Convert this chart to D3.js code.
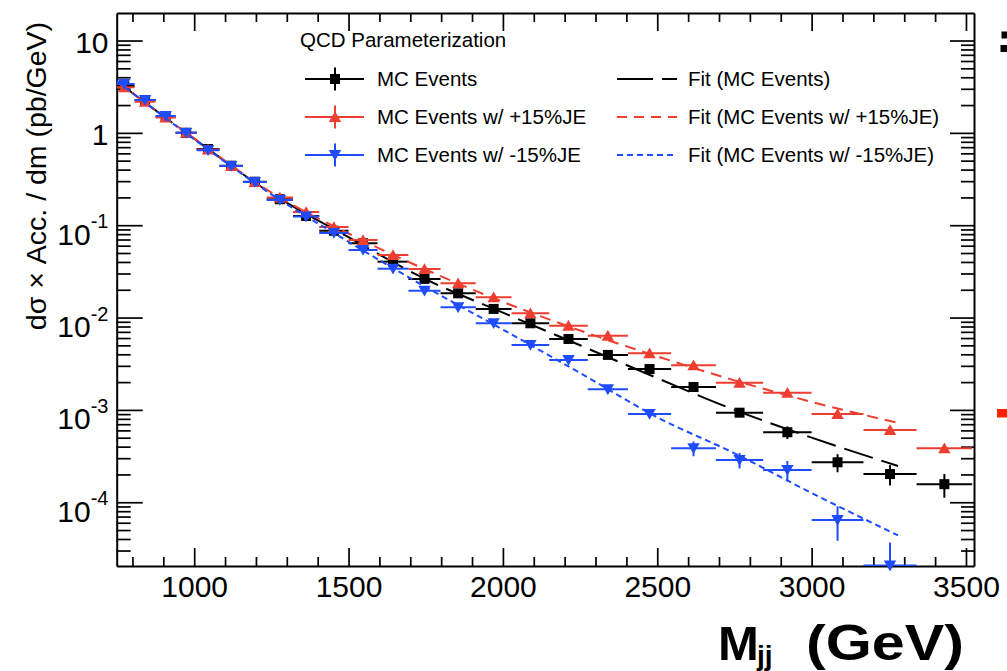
<!DOCTYPE html>
<html>
<head>
<meta charset="utf-8">
<script src="https://cdn.jsdelivr.net/npm/d3@7"></script>
<style>
body { margin: 0; background: #fff; }
svg text { font-family: "Liberation Sans", Arial, Helvetica, sans-serif; fill: #000; }
</style>
</head>
<body>
<svg id="chart" width="1007" height="671"></svg>
<script>
// dijet mass bins (GeV)
var binEdges = [740, 807, 875, 940, 1008, 1082, 1158, 1235, 1320, 1405, 1500, 1594, 1694,
                1798, 1912, 2028, 2150, 2275, 2405, 2545, 2690, 2843, 3000, 3168, 3340, 3520];

// dsigma x Acc / dm (pb/GeV)
var mcEvents = [3.22, 2.27, 1.49, 1.00, 0.668, 0.441, 0.296, 0.191, 0.126, 0.0871, 0.0637, 0.0403, 0.0262,
                0.0183, 0.0124, 0.00867, 0.00586, 0.00394, 0.00277, 0.00177, 0.000933, 0.000573, 0.000271,
                0.000202, 0.000157];
var mcEventsErr = [0.05, 0.03, 0.02, 0.012, 0.008, 0.005, 0.0035, 0.0022, 0.0015, 0.001, 0.0008, 0.0005, 0.0004,
                   0.0003, 0.0002, 0.00015, 0.00012, 0.00009, 0.00007, 0.00006, 0.00008, 0.00009, 0.00006,
                   0.00005, 0.000045];

var mcPlus15 = [3.11, 2.17, 1.47, 1.00, 0.661, 0.438, 0.294, 0.200, 0.139, 0.0957, 0.0692, 0.0476, 0.0336,
                0.0235, 0.0166, 0.0111, 0.00817, 0.00637, 0.00410, 0.00305, 0.00197, 0.00153, 0.000902,
                0.000605, 0.000385];
var mcPlus15Err = [0.05, 0.03, 0.02, 0.012, 0.008, 0.005, 0.0035, 0.0022, 0.0016, 0.0012, 0.0009, 0.0006, 0.0005,
                   0.0004, 0.0003, 0.0002, 0.00016, 0.00013, 0.0001, 0.00008, 0.00006, 0.00006, 0.00005,
                   0.00004, 0.00003];

var mcMinus15 = [3.38, 2.27, 1.52, 1.00, 0.650, 0.438, 0.294, 0.188, 0.124, 0.0824, 0.0540, 0.0338, 0.0195,
                 0.0129, 0.00867, 0.00505, 0.00347, 0.00167, 0.000904, 0.000385, 0.000287, 0.000224, 0.0000643,
                 0.0000206, null];
var mcMinus15Err = [0.05, 0.03, 0.02, 0.012, 0.008, 0.005, 0.0035, 0.0022, 0.0015, 0.001, 0.0008, 0.0005, 0.0004,
                    0.0003, 0.0002, 0.00015, 0.0001, 0.00007, 0.00005, 0.00007, 0.000055, 0.000056, 0.000026,
                    0.000016, null];

// fitted QCD parameterization
var fitMass = [750, 1000, 1250, 1500, 1750, 2000, 2250, 2500, 2750, 3000, 3280];
var fitMC = [3.61, 0.863, 0.221, 0.0741, 0.0260, 0.01132, 0.00501, 0.00221, 0.00100, 0.000501, 0.000247];
var fitPlus15 = [3.55, 0.871, 0.226, 0.0813, 0.0331, 0.0148, 0.00724, 0.00380, 0.00209, 0.00122, 0.000724];
var fitMinus15 = [3.63, 0.851, 0.216, 0.0661, 0.0214, 0.00741, 0.00251, 0.000832, 0.000339, 0.000126, 0.0000437];

var xTickLabels = [1000, 1500, 2000, 2500, 3000, 3500];
var yTickExps = [1, 0, -1, -2, -3, -4];

var legendLabels = ["MC Events", "MC Events w/ +15%JE", "MC Events w/ -15%JE"];
var fitLabels = ["Fit (MC Events)", "Fit (MC Events w/ +15%JE)", "Fit (MC Events w/ -15%JE)"];

var colBlack = "#000000", colRed = "#ee3e30", colBlue = "#1f4cff";

var svg = d3.select("#chart");
var plotL = 116.7, plotR = 974, plotT = 13, plotB = 566;

var x = d3.scaleLinear().domain([749, 3526]).range([plotL, plotR]);
var y = d3.scaleLog().domain([2.04e-5, 19.86]).range([plotB, plotT]);

svg.append("defs").append("clipPath").attr("id", "plotClip")
	.append("rect")
	.attr("x", plotL).attr("y", plotT)
	.attr("width", plotR - plotL).attr("height", plotB - plotT);

// ---- axes (ticks inside, mirrored on top/right) ----
var xMinor = d3.range(800, 3501, 100).filter(function (v) { return v % 500 !== 0; });
var yMajor = yTickExps.map(function (e) { return Math.pow(10, e); });
var yMinor = [];
for (var e = -5; e <= 1; e++) {
	for (var k = 2; k <= 9; k++) {
		var v = k * Math.pow(10, e);
		if (v > 2.1e-5 && v < 19.8) yMinor.push(v);
	}
}

function drawAxis(axis, tx, ty, keepDomain) {
	var g = svg.append("g")
		.attr("transform", "translate(" + tx + "," + ty + ")")
		.call(axis);
	if (keepDomain) g.select(".domain").attr("stroke", "#000").attr("stroke-width", 2);
	else g.select(".domain").remove();
	g.selectAll(".tick line").attr("stroke", "#000").attr("stroke-width", 1.7);
	return g;
}

var xBottom = drawAxis(d3.axisBottom(x).tickValues(xTickLabels).tickSizeInner(-18).tickSizeOuter(0)
	.tickFormat(d3.format("d")), 0, plotB, true);
xBottom.selectAll(".tick text")
	.attr("y", 30.7)
	.attr("dy", null)
	.attr("font-size", 30)
	.attr("font-family", "Liberation Sans, Arial, sans-serif");
drawAxis(d3.axisBottom(x).tickValues(xMinor).tickSizeInner(-9).tickSizeOuter(0).tickFormat(""), 0, plotB, false);
drawAxis(d3.axisTop(x).tickValues(xTickLabels).tickSizeInner(-18).tickSizeOuter(0).tickFormat(""), 0, plotT, true);
drawAxis(d3.axisTop(x).tickValues(xMinor).tickSizeInner(-9).tickSizeOuter(0).tickFormat(""), 0, plotT, false);

drawAxis(d3.axisLeft(y).tickValues(yMajor).tickSizeInner(-26).tickSizeOuter(0).tickFormat(""), plotL, 0, true);
drawAxis(d3.axisLeft(y).tickValues(yMinor).tickSizeInner(-14).tickSizeOuter(0).tickFormat(""), plotL, 0, false);
drawAxis(d3.axisRight(y).tickValues(yMajor).tickSizeInner(-24).tickSizeOuter(0).tickFormat(""), plotR, 0, true);
drawAxis(d3.axisRight(y).tickValues(yMinor).tickSizeInner(-13).tickSizeOuter(0).tickFormat(""), plotR, 0, false);

// y tick labels as powers of ten
yTickExps.forEach(function (e) {
	var t = svg.append("text")
		.attr("x", 108.5)
		.attr("text-anchor", "end")
		.attr("font-size", 30);
	if (e >= 0) {
		t.attr("y", y(Math.pow(10, e)) + 12.5).text(e === 1 ? "10" : "1");
	} else {
		t.attr("y", y(Math.pow(10, e)) + 19.5);
		t.append("tspan").text("10");
		t.append("tspan").attr("font-size", 20).attr("dy", -16.5).text("-" + (-e));
	}
});

// ---- data ----
var markerPath = {
	up: "M0,-5.8L6.2,5L-6.2,5Z",
	down: "M0,5.8L6.2,-5L-6.2,-5Z",
	square: "M-5,-5H5V5H-5Z"
};

function toPoints(values, errs) {
	var pts = [];
	values.forEach(function (v, i) {
		if (v === null) return;
		pts.push({ lo: binEdges[i], hi: binEdges[i + 1], mid: (binEdges[i] + binEdges[i + 1]) / 2, v: v, e: errs[i] });
	});
	return pts;
}

function drawSeries(values, errs, color, marker) {
	var pts = toPoints(values, errs);
	var g = svg.append("g");
	var bars = g.append("g").attr("clip-path", "url(#plotClip)");

	bars.selectAll(".hbar")
		.data(pts)
		.enter()
		.append("line")
		.attr("class", "hbar")
		.attr("x1", function (d) { return x(d.lo); })
		.attr("x2", function (d) { return x(d.hi); })
		.attr("y1", function (d) { return y(d.v); })
		.attr("y2", function (d) { return y(d.v); })
		.attr("stroke", color)
		.attr("stroke-width", 2);

	bars.selectAll(".vbar")
		.data(pts)
		.enter()
		.append("line")
		.attr("class", "vbar")
		.attr("x1", function (d) { return x(d.mid); })
		.attr("x2", function (d) { return x(d.mid); })
		.attr("y1", function (d) { return y(d.v + d.e); })
		.attr("y2", function (d) { return y(Math.max(d.v - d.e, 1e-7)); })
		.attr("stroke", color)
		.attr("stroke-width", 2);

	g.selectAll(".marker")
		.data(pts)
		.enter()
		.append("path")
		.attr("class", "marker")
		.attr("transform", function (d) { return "translate(" + x(d.mid) + "," + y(d.v) + ")"; })
		.attr("d", markerPath[marker])
		.attr("fill", color);
}

function drawFit(values, color, dash) {
	var line = d3.line()
		.x(function (d, i) { return x(fitMass[i]); })
		.y(function (d) { return y(d); })
		.curve(d3.curveMonotoneX);
	svg.append("path")
		.datum(values)
		.attr("clip-path", "url(#plotClip)")
		.attr("d", line)
		.attr("fill", "none")
		.attr("stroke", color)
		.attr("stroke-width", 2)
		.attr("stroke-dasharray", dash);
}

drawSeries(mcEvents, mcEventsErr, colBlack, "square");
drawFit(fitMC, colBlack, "30,9");
drawSeries(mcPlus15, mcPlus15Err, colRed, "up");
drawFit(fitPlus15, colRed, "11,7");
drawSeries(mcMinus15, mcMinus15Err, colBlue, "down");
drawFit(fitMinus15, colBlue, "6,4");

// ---- legend ----
function addLegend(labels, fits, colors, markers, dashes) {
	var lg = svg.append("g").attr("class", "legend");
	var rowY = [79, 117, 155];

	lg.append("text")
		.attr("x", 300)
		.attr("y", 47)
		.attr("font-size", 20.5)
		.text("QCD Parameterization");

	labels.forEach(function (lab, i) {
		var yy = rowY[i];
		lg.append("line").attr("x1", 305).attr("x2", 364).attr("y1", yy).attr("y2", yy)
			.attr("stroke", colors[i]).attr("stroke-width", 2);
		lg.append("line").attr("x1", 335).attr("x2", 335).attr("y1", yy - 11.5).attr("y2", yy + 11.5)
			.attr("stroke", colors[i]).attr("stroke-width", 2);
		lg.append("path")
			.attr("transform", "translate(335," + yy + ")")
			.attr("d", markerPath[markers[i]])
			.attr("fill", colors[i]);
		lg.append("text")
			.attr("x", 377)
			.attr("y", yy + 7)
			.attr("font-size", 20.5)
			.text(lab);

		lg.append("line").attr("x1", 617).attr("x2", 677).attr("y1", yy).attr("y2", yy)
			.attr("stroke", colors[i]).attr("stroke-width", 2)
			.attr("stroke-dasharray", dashes[i]);
		lg.append("text")
			.attr("x", 688)
			.attr("y", yy + 7)
			.attr("font-size", 20.5)
			.text(fits[i]);
	});
}

addLegend(legendLabels, fitLabels, [colBlack, colRed, colBlue], ["square", "up", "down"],
	["36,9", "10,7", "6,4"]);

// ---- axis titles ----
svg.append("text")
	.attr("transform", "translate(46,176) rotate(-90)")
	.attr("text-anchor", "middle")
	.attr("font-size", 28.5)
	.text("d\u03c3 \u00d7 Acc. / dm (pb/GeV)");

var xt = svg.append("g").attr("font-weight", "bold");
xt.append("text").attr("x", 718).attr("y", 660).attr("font-size", 49).text("M");
xt.append("text").attr("x", 757).attr("y", 665).attr("font-size", 28).text("jj");
xt.append("text").attr("x", 806).attr("y", 660).attr("font-size", 50)
	.attr("textLength", 158).attr("lengthAdjust", "spacingAndGlyphs").text("(GeV)");

// fragments of the neighbouring slide content at the right edge
svg.append("rect").attr("x", 1001.5).attr("y", 31.5).attr("width", 6).attr("height", 7).attr("fill", "#000");
svg.append("rect").attr("x", 1000.5).attr("y", 45).attr("width", 7).attr("height", 7).attr("fill", "#000");
svg.append("rect").attr("x", 997).attr("y", 409).attr("width", 10).attr("height", 8.5).attr("fill", "#ff2200");
</script>
</body>
</html>
